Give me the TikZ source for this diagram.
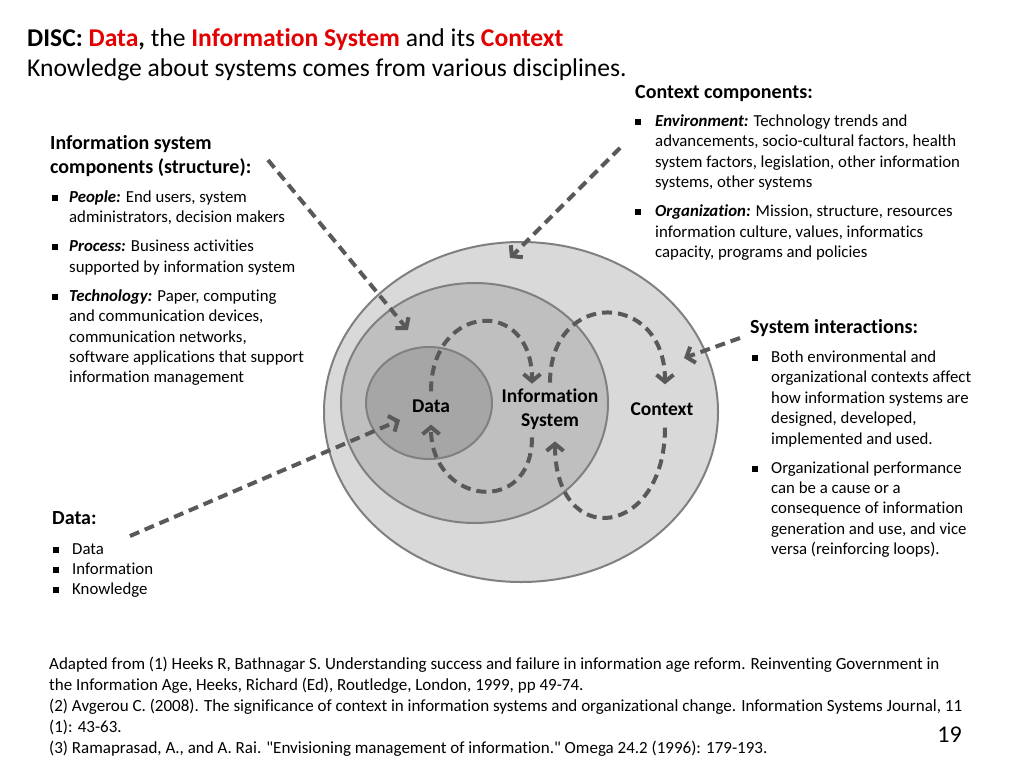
\documentclass[tikz,border=0pt]{standalone}
\usepackage{fontspec}
\setmainfont{Carlito}[Ligatures={TeXOff,NoCommon}]
\usepackage{xcolor}
\usetikzlibrary{shapes.geometric,arrows.meta}
\definecolor{discred}{RGB}{228,0,0}
\definecolor{arrowgray}{RGB}{89,89,89}
\definecolor{rimgray}{RGB}{128,128,128}
\definecolor{ctxgray}{RGB}{217,217,217}
\definecolor{isgray}{RGB}{191,191,191}
\definecolor{datagray}{RGB}{166,166,166}
\newcommand\bodysize{\fontsize{16.8}{20.4}\selectfont}
\newcommand\headsize{\fontsize{20}{23.5}\selectfont\bfseries}
% lines stacked on the first baseline
\newcommand\lines[1]{\begin{tabular}[t]{@{}l@{}}#1\end{tabular}}
% square-bullet lists, #1 = gap between bullet and text
\newenvironment{bullets}[1]{\begin{tabular}[t]{@{}l@{\hspace{#1}}l@{}}}{\end{tabular}}
\newcommand\sq{\raisebox{1.5pt}{\rule{6pt}{6pt}}}
\newcommand\gap{\\[8.6pt]}
\tikzset{
    text-block/.style = {anchor=base west, inner sep=0pt, font=\bodysize},
    head-block/.style = {anchor=base west, inner sep=0pt, font=\headsize},
    rim/.style = {ellipse, draw=rimgray, line width=2pt, inner sep=0pt},
    ring-label/.style = {align=center, font=\fontsize{19.5}{23.5}\selectfont\bfseries, inner sep=2pt},
    disc-arrow/.style = {draw=arrowgray, line width=4pt, dash pattern=on 10pt off 6pt, -{Straight Barb[length=7pt,width=17pt]}},
}
\begin{document}
\begin{tikzpicture}[x=1pt,y=1pt]
\useasboundingbox[fill=white] (0,0) rectangle (1024,-768);

% title
\node[anchor=base west, inner sep=0pt, font=\fontsize{25.6}{30}\selectfont] (title) at (27,-46)
    {\lines{\textbf{DISC: \textcolor{discred}{Data}, }the \textbf{\textcolor{discred}{Information System}} and its \textbf{\textcolor{discred}{Context}}\\
     Knowledge about systems comes from various disciplines.}};

% the three rings
\node[rim, fill=ctxgray, minimum width=394pt, minimum height=340pt] (ctx) at (521,-412) {};
\node[rim, fill=isgray, minimum width=267pt, minimum height=240pt] (infsys) at (474.5,-403) {};
\node[rim, fill=datagray, minimum width=126pt, minimum height=112pt] (data) at (429,-403) {};

\node[ring-label] (datalbl) at (431,-406) {Data};
\node[ring-label] (islbl) at (550,-409) {Information\\System};
\node[ring-label] (ctxlbl) at (662,-409) {Context};

% left: structure components
\node[head-block] (structhead) at (50,-149.5) {\lines{Information system\\components (structure):}};
\node[text-block] (structlist) at (52,-202.5) {\begin{bullets}{11pt}
    \sq & \textbf{\textit{People:}} End users, system\\
        & administrators, decision makers\gap
    \sq & \textbf{\textit{Process:}} Business activities\\
        & supported by information system\gap
    \sq & \textbf{\textit{Technology:}} Paper, computing\\
        & and communication devices,\\
        & communication networks,\\
        & software applications that support\\
        & information management
    \end{bullets}};

% right top: context components
\node[head-block] (ctxhead) at (635,-98.5) {Context components:};
\node[text-block] (ctxlist) at (635,-126.5) {\begin{bullets}{14pt}
    \sq & \textbf{\textit{Environment:}} Technology trends and\\
        & advancements, socio-cultural factors, health\\
        & system factors, legislation, other information\\
        & systems, other systems\gap
    \sq & \textbf{\textit{Organization:}} Mission, structure, resources\\
        & information culture, values, informatics\\
        & capacity, programs and policies
    \end{bullets}};

% right: interactions
\node[head-block] (interhead) at (750,-333.5) {System interactions:};
\node[text-block] (interlist) at (752,-362.5) {\begin{bullets}{13pt}
    \sq & Both environmental and\\
        & organizational contexts affect\\
        & how information systems are\\
        & designed, developed,\\
        & implemented and used.\gap
    \sq & Organizational performance\\
        & can be a cause or a\\
        & consequence of information\\
        & generation and use, and vice\\
        & versa (reinforcing loops).
    \end{bullets}};

% left bottom: data
\node[head-block] (datahead) at (52,-524) {Data:};
\node[text-block] (datalist) at (53,-554) {\begin{bullets}{13pt}
    \sq & Data\\
    \sq & Information\\
    \sq & Knowledge
    \end{bullets}};

% references
\node[anchor=base west, inner sep=0pt, font=\fontsize{17}{21}\selectfont] (refs) at (49,-669)
    {\lines{Adapted from (1) Heeks R, Bathnagar S. Understanding success and failure in information age reform. Reinventing Government in\\
     the Information Age, Heeks, Richard (Ed), Routledge, London, 1999, pp 49-74.\\
     (2) Avgerou C. (2008). The significance of context in information systems and organizational change. Information Systems Journal, 11\\
     (1): 43-63.\\
     (3) Ramaprasad, A., and A. Rai. "Envisioning management of information." Omega 24.2 (1996): 179-193.}};
\node[anchor=base east, inner sep=0pt, font=\fontsize{24}{28}\selectfont] (pageno) at (962,-742) {19};

% incoming arrows
\coordinate (structend) at (268,-160);
\coordinate (structtip) at (408,-330);
\coordinate (ctxend) at (620,-148);
\coordinate (ctxtip) at (510,-258);
\coordinate (interend) at (740,-338);
\coordinate (intertip) at (684,-358);
\coordinate (dataend) at (130,-536);
\coordinate (datatip) at (400,-420);
\draw[disc-arrow] (structend) -- (structtip);
\draw[disc-arrow] (ctxend) -- (ctxtip);
\draw[disc-arrow] (interend) -- (intertip);
\draw[disc-arrow] (dataend) -- (datatip);

% reinforcing loops
\draw[disc-arrow] ([yshift=6pt]datalbl.north) .. controls +(0,88) and +(0,88) .. ([xshift=-18pt,yshift=3pt]islbl.north);
\draw[disc-arrow] ([xshift=-18pt,yshift=-6pt]islbl.south) .. controls +(0,-80) and +(0,-80) .. ([yshift=-10pt]datalbl.south);
\draw[disc-arrow] ([yshift=4pt]islbl.north) .. controls +(0,94) and +(0,94) .. ([xshift=3pt,yshift=16pt]ctxlbl.north);
\draw[disc-arrow] ([xshift=3pt,yshift=-10pt]ctxlbl.south) .. controls +(0,-110) and +(0,-110) .. ([xshift=5pt,yshift=-10pt]islbl.south);
\end{tikzpicture}
\end{document}
